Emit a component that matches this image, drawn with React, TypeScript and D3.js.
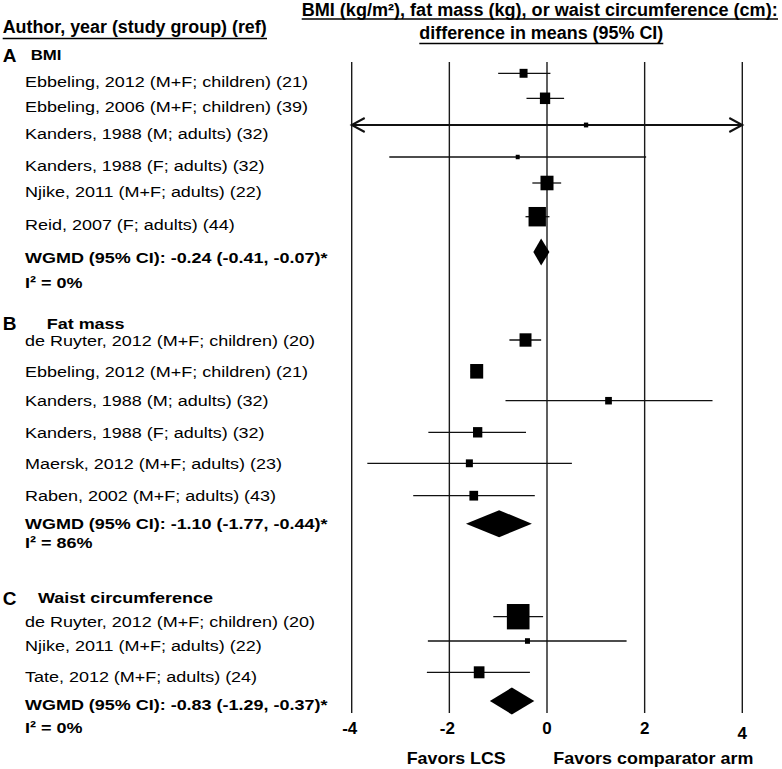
import React from "react";
import * as d3 from "d3";

// ---------------- DATA ----------------
const panelLetters = ["A", "B", "C"];
const panelTitles = ["BMI", "Fat mass", "Waist circumference"];

const bmiStudies = [
  "Ebbeling, 2012 (M+F; children) (21)",
  "Ebbeling, 2006 (M+F; children) (39)",
  "Kanders, 1988 (M; adults) (32)",
  "Kanders, 1988 (F; adults) (32)",
  "Njike, 2011 (M+F; adults) (22)",
  "Reid, 2007 (F; adults) (44)",
];
const bmiEstimate = [-0.48, -0.04, 0.8, -0.6, 0.0, -0.2];
const bmiLower = [-1.0, -0.42, -6, -3.23, -0.3, -0.44];
const bmiUpper = [0.07, 0.35, 6, 2.03, 0.29, 0.05];
const bmiWeight = [12, 20, 3.5, 3, 32, 57];

const fatStudies = [
  "de Ruyter, 2012 (M+F; children) (20)",
  "Ebbeling, 2012 (M+F; children) (21)",
  "Kanders, 1988 (M; adults) (32)",
  "Kanders, 1988 (F; adults) (32)",
  "Maersk, 2012 (M+F; adults) (23)",
  "Raben, 2002 (M+F; adults) (43)",
];
const fatEstimate = [-0.44, -1.44, 1.26, -1.42, -1.59, -1.5];
const fatLower = [-0.77, -1.56, -0.85, -2.43, -3.68, -2.74];
const fatUpper = [-0.12, -1.32, 3.39, -0.43, 0.51, -0.25];
const fatWeight = [27, 32, 8.5, 16.3, 9.3, 14.3];

const waistStudies = [
  "de Ruyter, 2012 (M+F; children) (20)",
  "Njike, 2011 (M+F; adults) (22)",
  "Tate, 2012 (M+F; adults) (24)",
];
const waistEstimate = [-0.59, -0.4, -1.39];
const waistLower = [-1.1, -2.44, -2.46];
const waistUpper = [-0.08, 1.63, -0.35];
const waistWeight = [97, 4.7, 21.6];

const pooledLabels = [
  "WGMD (95% CI): -0.24 (-0.41, -0.07)*",
  "WGMD (95% CI): -1.10 (-1.77, -0.44)*",
  "WGMD (95% CI): -0.83 (-1.29, -0.37)*",
];
const pooledEstimate = [-0.12, -0.98, -0.72];
const pooledLower = [-0.28, -1.66, -1.17];
const pooledUpper = [0.05, -0.31, -0.26];
const heterogeneity = ["I\u00B2 = 0%", "I\u00B2 = 86%", "I\u00B2 = 0%"];

const xTicks = [-4, -2, 0, 2, 4];
const xDomain = [-4, 4];

const headerLeft = "Author, year (study group) (ref)";
const headerRight1 = "BMI (kg/m\u00B2), fat mass (kg), or waist circumference (cm):";
const headerRight2 = "difference in means (95% CI)";
const favorsLeft = "Favors LCS";
const favorsRight = "Favors comparator arm";

// ---------------- LAYOUT ----------------
const W = 782;
const H = 769;
const FONT = "'Liberation Sans', Arial, Helvetica, sans-serif";
const LABEL_SIZE = 15.5;
const STRETCH = 1.16;
const ROW_Y = [
  [73.3, 98.3, 125, 157, 183, 216.7],
  [340, 371.3, 400.7, 432.3, 463.3, 495.7],
  [616.7, 641, 672.3],
];
const POOLED_Y = [252, 523.7, 701];
const TEXT_OFFSET = [13.5, 5.5, 10];
const POOLED_TEXT_Y = [263, 528.5, 710];
const I2_Y = [288.3, 547.5, 733.3];
const LETTER_Y = [61.7, 330, 605];
const TITLE_Y = [59.5, 328.5, 602.7];
const TITLE_X = [30.7, 46.7, 38];
const GRID_TOP = 62;
const GRID_BOTTOM = 713;

const panels = [
  { studies: bmiStudies, est: bmiEstimate, lo: bmiLower, hi: bmiUpper, w: bmiWeight },
  { studies: fatStudies, est: fatEstimate, lo: fatLower, hi: fatUpper, w: fatWeight },
  { studies: waistStudies, est: waistEstimate, lo: waistLower, hi: waistUpper, w: waistWeight },
];

export default function App() {
  const x = d3.scaleLinear().domain(xDomain).range([351.7, 742.3]);
  const size = d3.scaleSqrt().domain([0, 100]).range([0, 23]);
  const diamond = (est: number, lo: number, hi: number, y: number) => {
    const p = d3.path();
    const h = 13.5;
    p.moveTo(x(lo), y);
    p.lineTo(x(est), y - h);
    p.lineTo(x(hi), y);
    p.lineTo(x(est), y + h);
    p.closePath();
    return p.toString();
  };
  const [dMin, dMax] = xDomain;

  return (
    <svg
      width={W}
      height={H}
      style={{ position: "absolute", left: 0, top: 0, background: "#fff" }}
      fontFamily={FONT}
    >
      {/* headers */}
      <text x={2.7} y={32.5} fontSize={18} fontWeight="bold" textLength={264} lengthAdjust="spacingAndGlyphs">
        {headerLeft}
      </text>
      <line x1={2.7} x2={267} y1={38.5} y2={38.5} stroke="#000" strokeWidth={1.6} />
      <text x={301.7} y={15.5} fontSize={17.5} fontWeight="bold" textLength={476} lengthAdjust="spacingAndGlyphs">
        {headerRight1}
      </text>
      <line x1={301.7} x2={778} y1={19} y2={19} stroke="#000" strokeWidth={1.6} />
      <text x={419.3} y={39.3} fontSize={17.5} fontWeight="bold" textLength={244} lengthAdjust="spacingAndGlyphs">
        {headerRight2}
      </text>
      <line x1={419.3} x2={663.3} y1={43.5} y2={43.5} stroke="#000" strokeWidth={1.6} />

      {/* gridlines */}
      {xTicks.map((t) => (
        <line key={"g" + t} x1={x(t)} x2={x(t)} y1={GRID_TOP} y2={GRID_BOTTOM} stroke="#1a1a1a" strokeWidth={1.4} />
      ))}
      {xTicks.map((t) => (
        <text
          key={"t" + t}
          x={x(t) + (t < 0 ? -2 : 0)}
          y={t === 4 ? 738.5 : 733.5}
          fontSize={17}
          fontWeight="bold"
          textAnchor="middle"
        >
          {t}
        </text>
      ))}
      <text x={406.7} y={764} fontSize={17} fontWeight="bold" textLength={99} lengthAdjust="spacingAndGlyphs">
        {favorsLeft}
      </text>
      <text x={553.3} y={764} fontSize={17} fontWeight="bold" textLength={200} lengthAdjust="spacingAndGlyphs">
        {favorsRight}
      </text>

      {panels.map((pn, pi) => (
        <g key={"p" + pi}>
          <text x={2.7} y={LETTER_Y[pi]} fontSize={19} fontWeight="bold">
            {panelLetters[pi]}
          </text>
          <text
            transform={`translate(${TITLE_X[pi]},${TITLE_Y[pi]}) scale(${STRETCH},1)`}
            fontSize={pi === 0 ? 14.5 : LABEL_SIZE}
            fontWeight="bold"
          >
            {panelTitles[pi]}
          </text>
          {pn.studies.map((s, i) => {
            const y = ROW_Y[pi][i];
            const lo = pn.lo[i];
            const hi = pn.hi[i];
            const clipLo = lo < dMin;
            const clipHi = hi > dMax;
            const x1 = x(Math.max(lo, dMin));
            const x2 = x(Math.min(hi, dMax));
            const sw = size(pn.w[i]);
            const sh = sw * 1.12;
            return (
              <g key={"r" + i}>
                <text
                  transform={`translate(25,${y + TEXT_OFFSET[pi]}) scale(${STRETCH},1)`}
                  fontSize={LABEL_SIZE}
                  fill="#000"
                >
                  {s}
                </text>
                <line x1={x1} x2={x2} y1={y} y2={y} stroke="#111" strokeWidth={clipLo || clipHi ? 2 : 1.3} />
                {clipLo && (
                  <path d={`M${x1 + 13},${y - 7} L${x1},${y} L${x1 + 13},${y + 7}`} fill="none" stroke="#111" strokeWidth={2} />
                )}
                {clipHi && (
                  <path d={`M${x2 - 13},${y - 7} L${x2},${y} L${x2 - 13},${y + 7}`} fill="none" stroke="#111" strokeWidth={2} />
                )}
                <rect x={x(pn.est[i]) - sw / 2} y={y - sh / 2} width={sw} height={sh} fill="#000" />
              </g>
            );
          })}
          <path d={diamond(pooledEstimate[pi], pooledLower[pi], pooledUpper[pi], POOLED_Y[pi])} fill="#000" />
          <text transform={`translate(25,${POOLED_TEXT_Y[pi]}) scale(${STRETCH},1)`} fontSize={LABEL_SIZE} fontWeight="bold">
            {pooledLabels[pi]}
          </text>
          <text transform={`translate(25,${I2_Y[pi]}) scale(${STRETCH},1)`} fontSize={LABEL_SIZE} fontWeight="bold">
            {heterogeneity[pi]}
          </text>
        </g>
      ))}
    </svg>
  );
}
